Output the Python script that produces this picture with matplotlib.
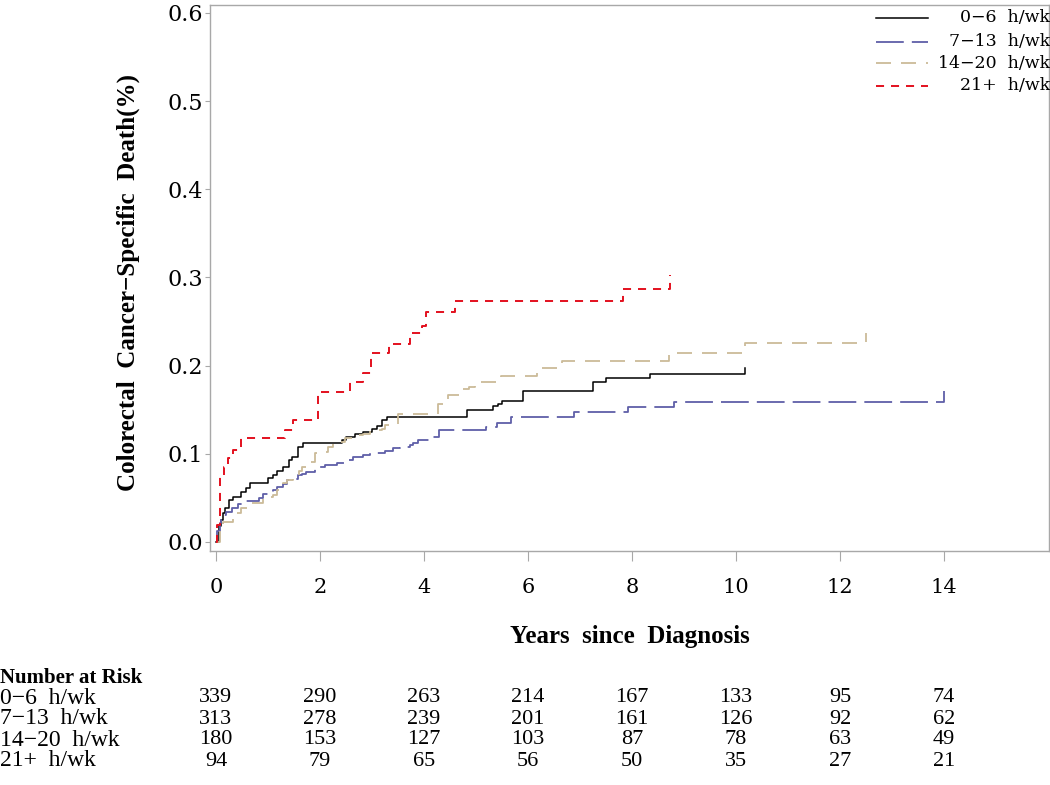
import matplotlib
matplotlib.use("Agg")
import matplotlib.pyplot as plt
from matplotlib.lines import Line2D
from matplotlib.transforms import blended_transform_factory

# cumulative incidence curves (years, proportion)
t_0_6 = [0, 0.05, 0.10, 0.14, 0.17, 0.25, 0.33, 0.49, 0.57, 0.65, 1.01, 1.09, 1.18,
         1.29, 1.41, 1.47, 1.57, 1.68, 2.42, 2.51, 2.67, 2.83, 3.01, 3.10, 3.20, 3.28,
         4.82, 5.33, 5.43, 5.51, 5.91, 7.26, 7.51, 8.35, 10.17, 10.17]
v_0_6 = [0, 0.018, 0.025, 0.033, 0.0385, 0.0476, 0.051, 0.057, 0.061, 0.0665, 0.0724,
         0.0762, 0.081, 0.0854, 0.093, 0.0968, 0.108, 0.112, 0.1156, 0.119, 0.122,
         0.125, 0.1285, 0.132, 0.138, 0.142, 0.150, 0.154, 0.157, 0.160, 0.1716,
         0.182, 0.1856, 0.190, 0.190, 0.197]

t_7_13 = [0, 0.02, 0.07, 0.10, 0.14, 0.20, 0.30, 0.43, 0.51, 0.82, 0.90, 1.09, 1.18,
          1.28, 1.36, 1.49, 1.57, 1.65, 1.73, 1.90, 2.00, 2.10, 2.32, 2.51, 2.64, 2.83,
          2.96, 3.25, 3.41, 3.54, 3.73, 3.79, 3.89, 4.15, 4.28, 5.20, 5.40, 5.67, 6.89,
          7.93, 8.80, 14.0, 14.0]
v_7_13 = [0, 0.012, 0.0215, 0.025, 0.0306, 0.0344, 0.0385, 0.0427, 0.046, 0.0495,
          0.0544, 0.059, 0.0624, 0.0661, 0.0703, 0.072, 0.076, 0.077, 0.0797, 0.0823,
          0.0854, 0.087, 0.0892, 0.093, 0.0968, 0.0987, 0.1006, 0.1036, 0.1062, 0.108,
          0.110, 0.1126, 0.1156, 0.1194, 0.127, 0.130, 0.1346, 0.142, 0.147, 0.1527,
          0.1584, 0.1584, 0.1716]

t_14_20 = [0, 0.08, 0.14, 0.33, 0.49, 0.62, 0.90, 1.09, 1.17, 1.29, 1.37, 1.49, 1.59,
           1.65, 1.74, 1.90, 2.06, 2.16, 2.26, 2.48, 2.61, 2.83, 2.96, 3.19, 3.25, 3.51,
           4.27, 4.47, 4.70, 4.87, 4.99, 5.49, 6.17, 6.65, 8.72, 10.17, 12.5, 12.5]
v_14_20 = [0, 0.0136, 0.023, 0.0325, 0.038, 0.0446, 0.051, 0.053, 0.059, 0.0665,
           0.0703, 0.074, 0.080, 0.0854, 0.091, 0.1006, 0.102, 0.108, 0.1137, 0.1175,
           0.121, 0.123, 0.127, 0.1285, 0.1327, 0.145, 0.157, 0.1667, 0.174, 0.176,
           0.182, 0.1886, 0.197, 0.2052, 0.2147, 0.2253, 0.2253, 0.2366]

t_21 = [0, 0.02, 0.077, 0.15, 0.23, 0.33, 0.49, 1.33, 1.48, 1.96, 2.58, 2.83, 2.99,
        3.33, 3.73, 3.97, 4.03, 4.60, 7.83, 8.74, 8.74]
v_21 = [0, 0.019, 0.074, 0.085, 0.095, 0.104, 0.118, 0.127, 0.138, 0.170, 0.182,
        0.192, 0.214, 0.225, 0.237, 0.245, 0.261, 0.2736, 0.287, 0.287, 0.303]

groups = ["0\u22126  h/wk", "7\u221213  h/wk", "14\u221220  h/wk", "21+  h/wk"]
risk_times = [0, 2, 4, 6, 8, 10, 12, 14]
risk_0_6 = [339, 290, 263, 214, 167, 133, 95, 74]
risk_7_13 = [313, 278, 239, 201, 161, 126, 92, 62]
risk_14_20 = [180, 153, 127, 103, 87, 78, 63, 49]
risk_21 = [94, 79, 65, 56, 50, 35, 27, 21]

plt.rcParams["lines.scale_dashes"] = False

fig = plt.figure(figsize=(10.5, 7.85), dpi=100)
ax = fig.add_axes([0.2, 0.2981, 0.799, 0.6955])

styles = [
    dict(color="black", lw=1.1, ls="-"),
    dict(color="#5f5fa8", lw=1.3, dashes=(20, 5.8)),
    dict(color="#cbbb98", lw=1.3, dashes=(10.8, 7.2)),
    dict(color="#e3101e", lw=1.4, dashes=(5.8, 5)),
]
curves = [(t_0_6, v_0_6), (t_7_13, v_7_13), (t_14_20, v_14_20), (t_21, v_21)]
for (t, v), st in zip(curves, styles):
    ax.step(t, v, where="post", **st)

ax.set_xlim(-0.115, 16.02)
ax.set_ylim(-0.0102, 0.609)
ax.set_xticks(range(0, 15, 2))
ax.set_yticks([0, 0.1, 0.2, 0.3, 0.4, 0.5, 0.6])
ax.set_yticklabels([f"{y:.1f}" for y in ax.get_yticks()])
for s in ax.spines.values():
    s.set_color("#a8a8a8")
    s.set_linewidth(1.0)
ax.tick_params(axis="x", length=7.5, pad=12, color="#a8a8a8", labelsize=15)
ax.tick_params(axis="y", length=3.6, pad=1.5, color="#a8a8a8", labelsize=16)
for lab in ax.get_xticklabels() + ax.get_yticklabels():
    lab.set_family("DejaVu Serif")

# axis titles
fig.text(128 / 1050, 1 - 283 / 785, "Colorectal  Cancer\u2212Specific  Death(%)",
         rotation=90, ha="center", va="center", family="Liberation Serif",
         weight="bold", fontsize=18)
fig.text(630 / 1050, 1 - 636 / 785, "Years  since  Diagnosis", ha="center",
         va="center", family="Liberation Serif", weight="bold", fontsize=18)

# legend, drawn by hand so the text is right-aligned like the original
leg_y = [18, 42, 63, 86]
for lab, st, yy in zip(groups, styles, leg_y):
    yf = 1 - yy / 785
    fig.add_artist(Line2D([876 / 1050, 928 / 1050], [yf, yf], **st))
    fig.text(1.0, yf, lab, ha="right", va="center", family="DejaVu Serif",
             fontsize=12.5)

# number at risk table
fig.text(0.0, 1 - 678 / 785, "Number at Risk", ha="left", va="center",
         family="Liberation Serif", weight="bold", fontsize=15)
tr = blended_transform_factory(ax.transData, fig.transFigure)
rows = [risk_0_6, risk_7_13, risk_14_20, risk_21]
row_y = [698, 719, 740, 761]
for lab, vals, yy in zip(groups, rows, row_y):
    yf = 1 - yy / 785
    fig.text(0.0, yf, lab, ha="left", va="center", family="Liberation Serif",
             fontsize=17)
    for t, n in zip(risk_times, vals):
        ax.text(t, yf, str(n), transform=tr, ha="center", va="center",
                family="Liberation Serif", fontsize=16, clip_on=False)

fig.savefig("out.png", dpi=100)
